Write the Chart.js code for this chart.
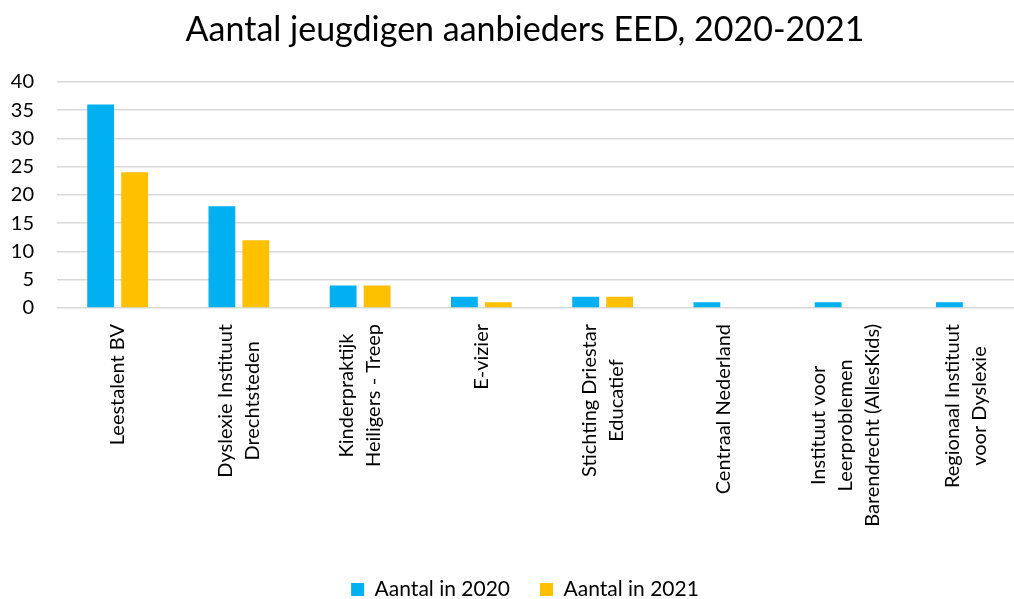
<!DOCTYPE html>
<html>
<head>
<meta charset="utf-8">
<script src="https://cdn.jsdelivr.net/npm/chart.js@4/dist/chart.umd.min.js"></script>
<style>
  html, body { margin: 0; padding: 0; background: #fff; overflow: hidden; }
  #wrap { width: 1014px; height: 599px; overflow: hidden; }
</style>
</head>
<body>
<div id="wrap"><canvas id="chart-canvas" width="1050" height="610"></canvas></div>
<script>
// Data
const categories = [
  ['Leestalent BV'],
  ['Dyslexie Instituut', 'Drechtsteden'],
  ['Kinderpraktijk', 'Heiligers - Treep'],
  ['E-vizier'],
  ['Stichting Driestar', 'Educatief'],
  ['Centraal Nederland'],
  ['Instituut voor', 'Leerproblemen', 'Barendrecht (AllesKids)'],
  ['Regionaal Instituut', 'voor Dyslexie']
];
const seriesNames = ['Aantal in 2020', 'Aantal in 2021'];
const values2020 = [36, 18, 4, 2, 2, 1, 1, 1];
const values2021 = [24, 12, 4, 1, 2, 0, 0, 0];
const yTicks = [0, 5, 10, 15, 20, 25, 30, 35, 40];

const FONT = 'Lato, "Open Sans", sans-serif';

// category labels: rotated, lines centred on the tick and on each other
const centeredLabels = {
  id: 'centeredLabels',
  afterLayout(chart) {
    // centre title and legend on the whole canvas, not the padded box
    [chart.titleBlock, chart.legend].forEach(b => {
      if (b) { b.left = 0; b.right = chart.width; }
    });
  },
  afterDraw(chart) {
    const xScale = chart.scales.x;
    const ctx = chart.ctx;
    const lh = 27;
    ctx.save();
    ctx.font = '20px ' + FONT;
    ctx.fillStyle = '#000';
    ctx.textAlign = 'center';
    ctx.textBaseline = 'middle';
    categories.forEach((lines, i) => {
      const x = xScale.getPixelForTick(i);
      const w = Math.max(...lines.map(l => ctx.measureText(l).width));
      const cy = xScale.top + 16 + w / 2;
      lines.forEach((line, j) => {
        const dx = (j - (lines.length - 1) / 2) * lh;
        ctx.save();
        ctx.translate(x + dx, cy);
        ctx.rotate(-Math.PI / 2);
        ctx.fillText(line, 0, 0);
        ctx.restore();
      });
    });
    ctx.restore();
  }
};

const canvas = document.getElementById('chart-canvas');
new Chart(canvas, {
  type: 'bar',
  data: {
    labels: categories,
    datasets: [
      {
        label: seriesNames[0],
        data: values2020,
        backgroundColor: '#00B0F0',
        categoryPercentage: 0.56,
        barPercentage: 0.79
      },
      {
        label: seriesNames[1],
        data: values2021,
        backgroundColor: '#FFC000',
        categoryPercentage: 0.56,
        barPercentage: 0.79
      }
    ]
  },
  options: {
    responsive: false,
    animation: false,
    layout: { padding: { left: 0, right: 23, top: 0, bottom: 0 } },
    plugins: {
      title: {
        display: true,
        text: 'Aantal jeugdigen aanbieders EED, 2020-2021',
        color: '#000',
        font: { family: FONT, size: 34, weight: 'normal' },
        padding: { top: 10, bottom: 31 }
      },
      legend: {
        position: 'bottom',
        labels: {
          color: '#000',
          font: { family: FONT, size: 21 },
          boxWidth: 13,
          boxHeight: 13,
          padding: 30
        }
      },
      tooltip: { enabled: false }
    },
    scales: {
      x: {
        grid: { display: false },
        border: { display: false },
        ticks: { color: 'transparent', maxRotation: 90, minRotation: 90 },
        afterFit: (scale) => { scale.height = 241; }
      },
      y: {
        min: 0,
        max: 40,
        afterBuildTicks: (scale) => { scale.ticks = yTicks.map(v => ({ value: v })); },
        grid: { color: '#D9D9D9', lineWidth: 1.5, drawTicks: false },
        border: { display: false },
        ticks: { color: '#000', font: { family: FONT, size: 20 }, padding: 23 },
        afterFit: (scale) => { scale.width = 57; }
      }
    }
  },
  plugins: [centeredLabels]
});
</script>
</body>
</html>
